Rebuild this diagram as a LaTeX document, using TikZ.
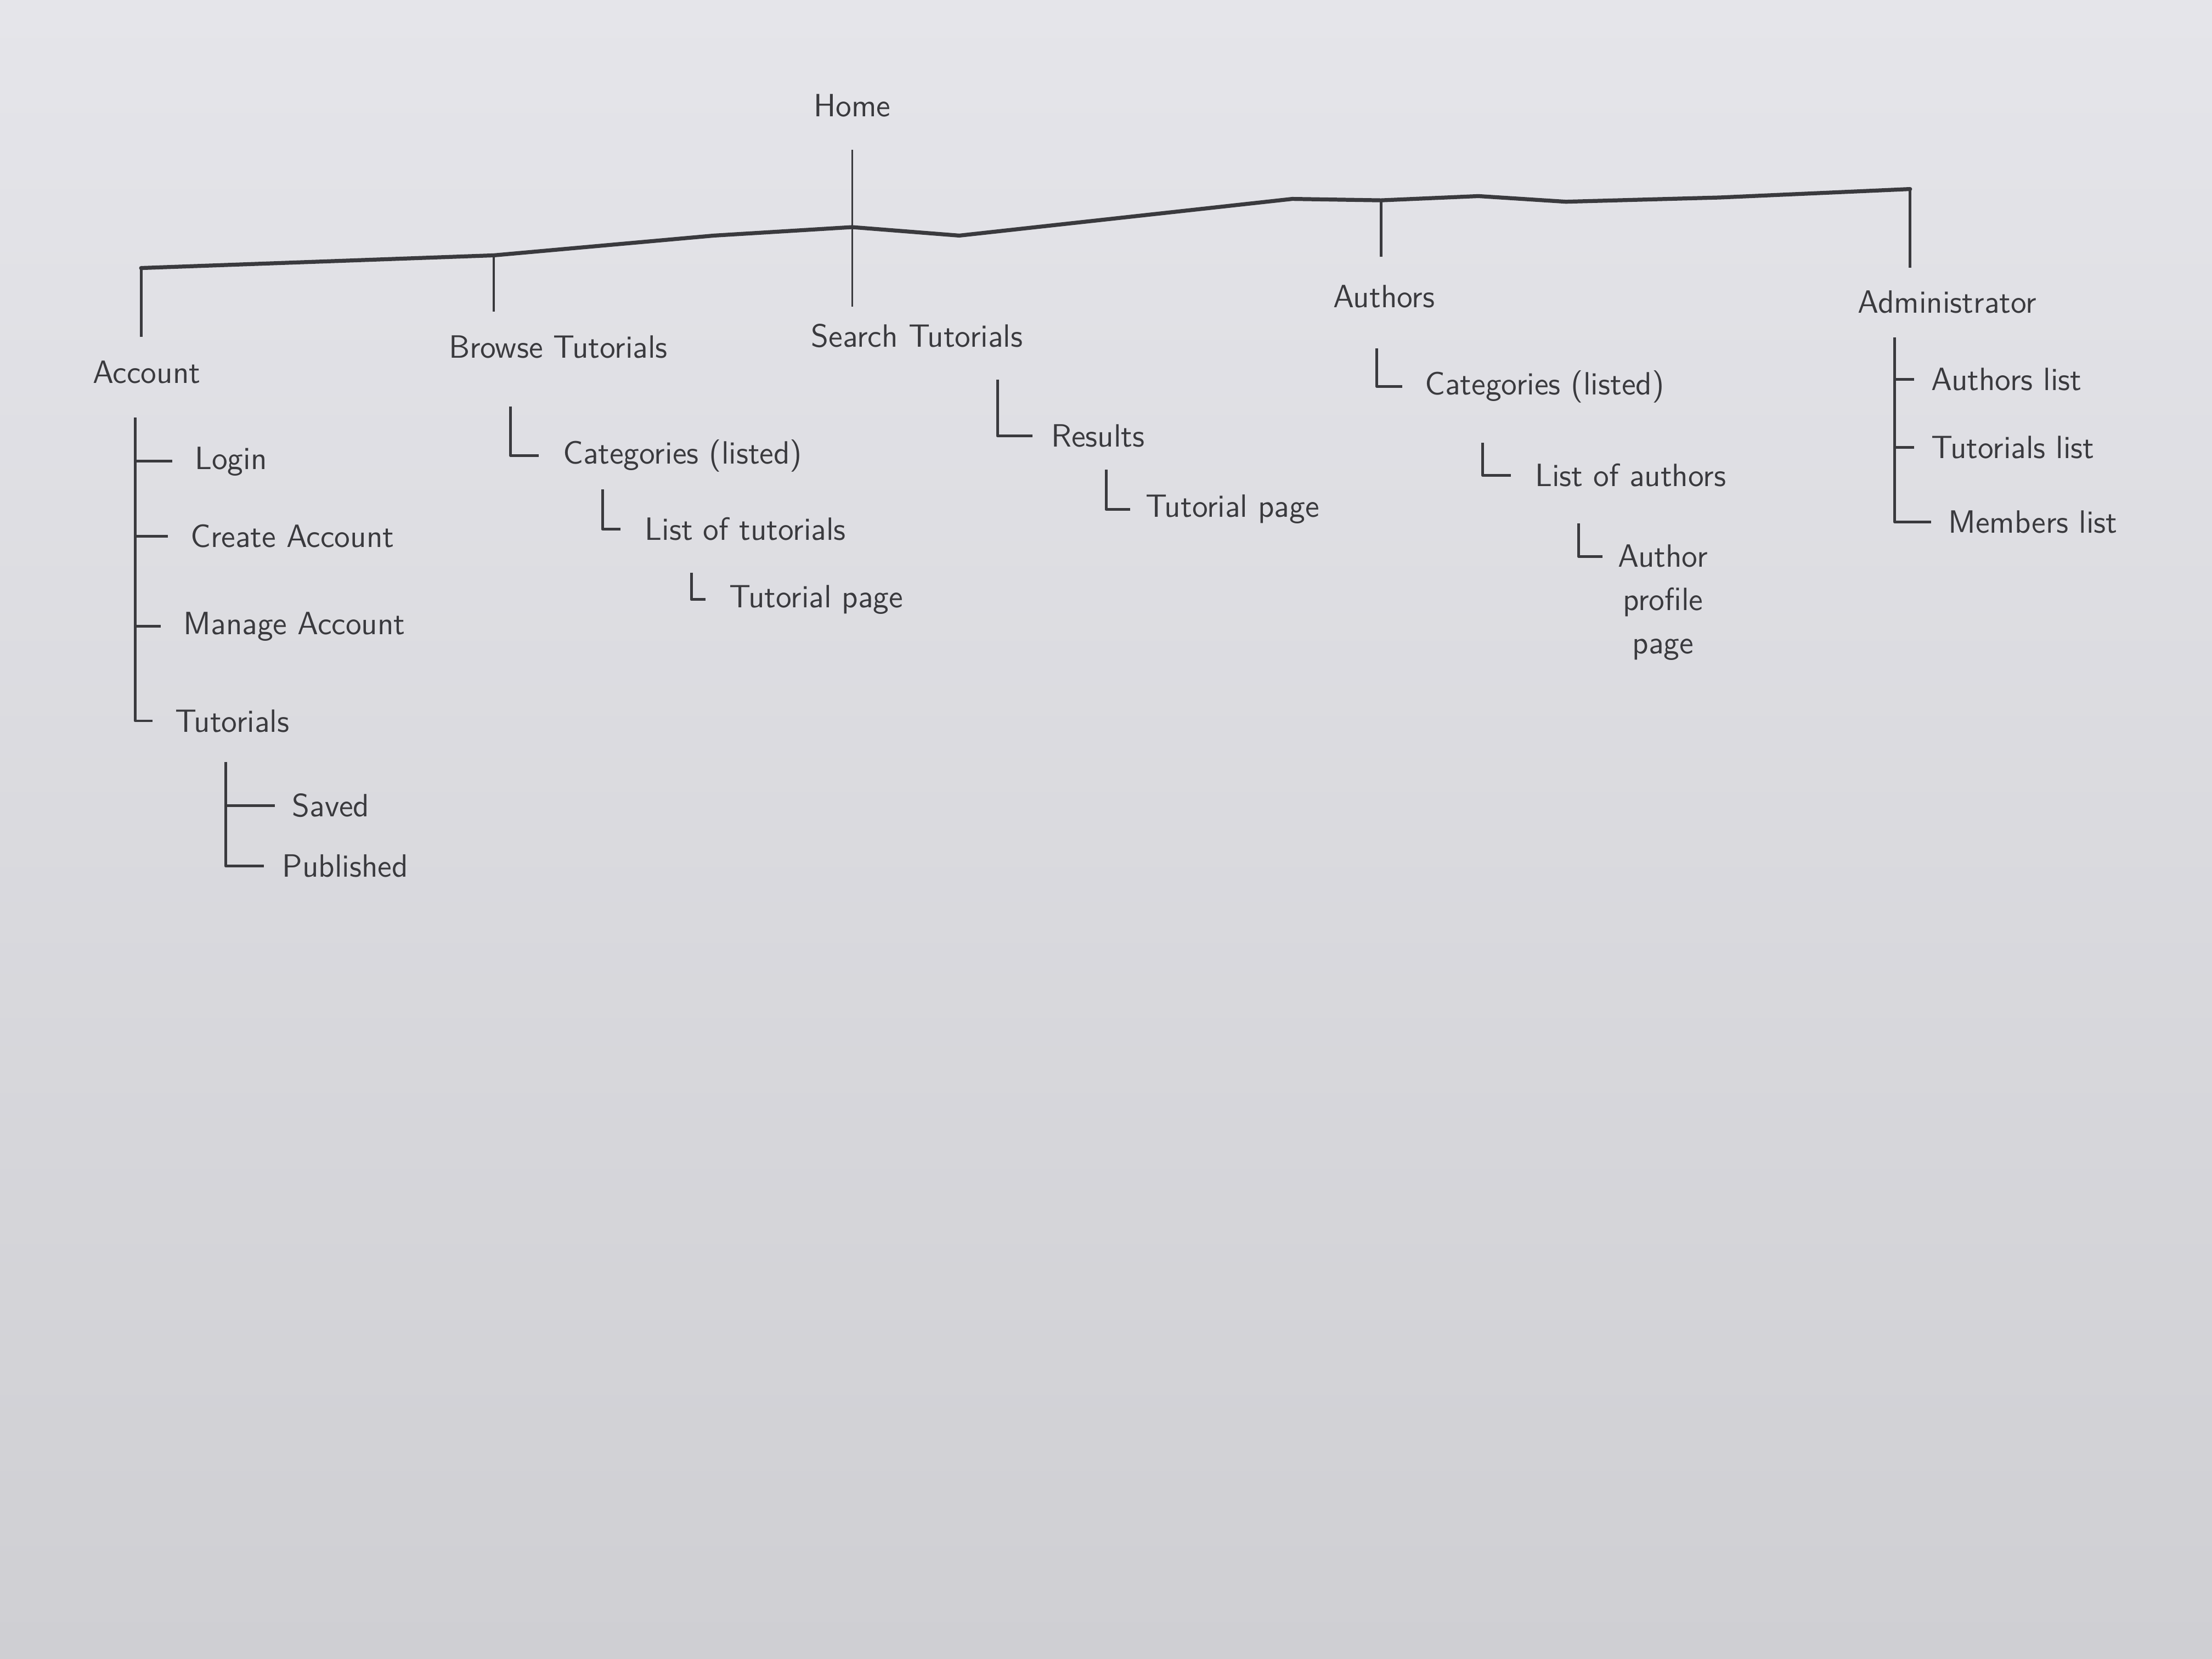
\documentclass[tikz,border=0pt]{standalone}
\usepackage{fontspec}
\usepackage{tikz}
\usetikzlibrary{positioning}
\definecolor{pencil}{RGB}{58,58,62}
\definecolor{paper}{RGB}{229,229,234}
\definecolor{paperlow}{RGB}{207,207,211}

\begin{document}
\begin{tikzpicture}[x=0.02cm, y=-0.02cm,
        main/.style = {font=\sffamily\fontsize{13}{16}\selectfont, text=pencil, inner sep=1pt},
        item/.style = {main, anchor=west},
        bus/.style = {draw=pencil, line width=1.6pt, line join=round, line cap=round},
        link/.style = {draw=pencil, line width=1.1pt, line join=round}]

    % paper
    \shade[top color=paper, bottom color=paperlow] (0,0) rectangle (1568,1176);
    \useasboundingbox (0,0) rectangle (1568,1176);

    % top level
    \node[main] (home) at (604,75) {Home};
    \node[main] (acc) at (104,264) {Account};
    \node[item] (browse) at (316,246) {Browse Tutorials};
    \node[item] (search) at (573,238) {Search Tutorials};
    \node[item] (authors) at (943,210) {Authors};
    \node[item] (admin) at (1315,214) {Administrator};

    % bus
    \coordinate (busL) at (100,190);
    \coordinate (jB) at (350,181);
    \coordinate (jH) at (604,161);
    \coordinate (jA) at (979,142);
    \coordinate (busR) at (1354,134);
    \draw[bus] (busL) -- (jB) -- (506,167) -- (jH) -- (680,167) -- (916,141)
        -- (jA) -- (1048,139) -- (1110,143) -- (1219,140) -- (busR);

    \draw[link, shorten >=0.3cm] (busL) -- (busL |- acc.north);
    \draw[link, shorten >=0.3cm] (jB) -- (jB |- browse.north);
    \draw[link, line width=0.7pt, shorten <=0.42cm, shorten >=0.2cm] (home.south) -- (home.south |- search.north);
    \draw[link, shorten >=0.36cm] (jA) -- (jA |- authors.north);
    \draw[link, shorten >=0.28cm] (busR) -- (busR |- admin.north);

    % account
    \node[item] (login) at (136,327) {Login};
    \node[item] (create) at (133,380) {Create Account};
    \node[item] (manage) at (128,444) {Manage Account};
    \node[item] (tuts) at (122,511) {Tutorials};
    \node[item] (saved) at (205,571) {Saved};
    \node[item] (pub) at (198,614) {Published};

    \coordinate (accspine) at (96,296);
    \draw[link] (accspine) |- ([xshift=-0.28cm]tuts.west);
    \foreach \n in {login, create, manage}
        \draw[link] (accspine |- \n.west) -- ([xshift=-0.28cm]\n.west);

    \coordinate (tutspine) at (160,540);
    \draw[link] (tutspine) |- ([xshift=-0.22cm]pub.west);
    \draw[link] (tutspine |- saved.west) -- ([xshift=-0.2cm]saved.west);

    % browse tutorials
    \node[item] (bcat) at (397,323) {Categories (listed)};
    \node[item] (blist) at (455,375) {List of tutorials};
    \node[item] (bpage) at (515,425) {Tutorial page};
    \coordinate (bcatL) at (362,288);
    \coordinate (blistL) at (427,347);
    \coordinate (bpageL) at (490,406);
    \draw[link] (bcatL) |- ([xshift=-0.3cm]bcat.west);
    \draw[link] (blistL) |- ([xshift=-0.3cm]blist.west);
    \draw[link] (bpageL) |- ([xshift=-0.3cm]bpage.west);

    % search tutorials
    \node[item] (sres) at (743,309) {Results};
    \node[item] (spage) at (810,361) {Tutorial page};
    \coordinate (sresL) at (707,269);
    \coordinate (spageL) at (784,333);
    \draw[link] (sresL) |- ([xshift=-0.22cm]sres.west);
    \draw[link] (spageL) |- ([xshift=-0.18cm]spage.west);

    % authors
    \node[item] (acat) at (1008,274) {Categories (listed)};
    \node[item] (alist) at (1086,337) {List of authors};
    \node[main, anchor=north west, align=center, font=\sffamily\fontsize{13}{17.5}\selectfont]
        (aprof) at (1145,384) {Author\\profile\\page};
    \coordinate (acatL) at (976,247);
    \coordinate (alistL) at (1051,314);
    \coordinate (aprofL) at (1119,371);
    \draw[link] (acatL) |- ([xshift=-0.28cm]acat.west);
    \draw[link] (alistL) |- ([xshift=-0.3cm]alist.west);
    \draw[link] (aprofL) |- ([shift={(-0.18cm,-0.21cm)}]aprof.north west);

    % administrator
    \node[item] (alst) at (1367,269) {Authors list};
    \node[item] (tlst) at (1367,317) {Tutorials list};
    \node[item] (mlst) at (1379,370) {Members list};
    \coordinate (admspine) at (1343,239);
    \draw[link] (admspine) |- ([xshift=-0.2cm]mlst.west);
    \foreach \n in {alst, tlst}
        \draw[link] (admspine |- \n.west) -- ([xshift=-0.2cm]\n.west);
\end{tikzpicture}
\end{document}
